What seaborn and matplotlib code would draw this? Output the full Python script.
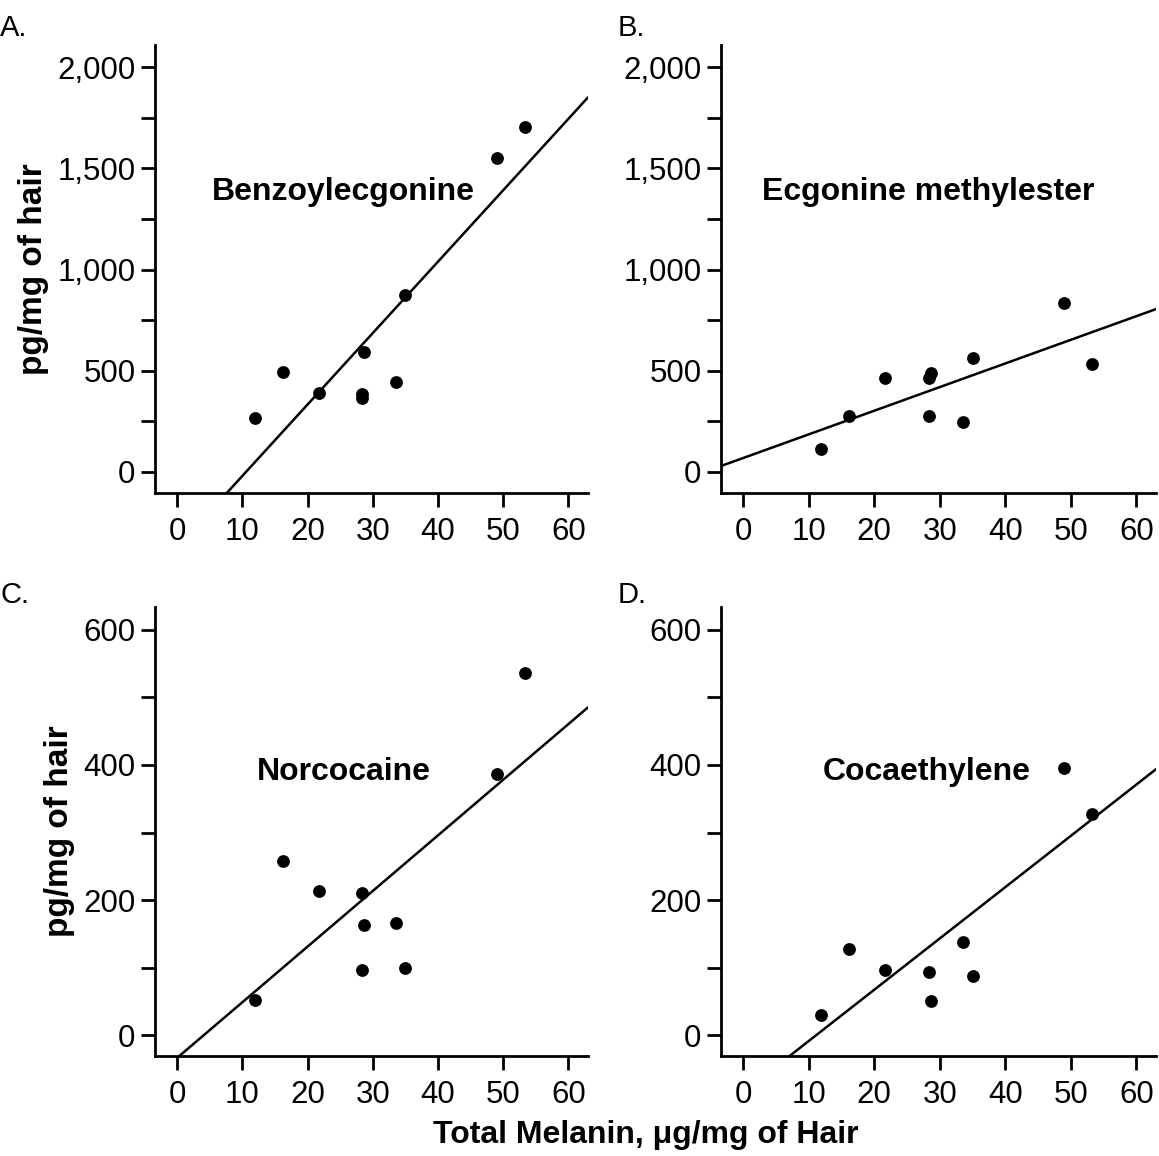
import numpy as np
import pandas as pd
import seaborn as sns
import matplotlib.pyplot as plt
from matplotlib.ticker import FuncFormatter, MultipleLocator

# total melanin (ug/mg of hair) for each of the 10 samples
melanin = [11.9, 16.2, 21.7, 28.3, 28.3, 28.7, 33.5, 35.0, 49.0, 53.3]

# drug concentrations, pg/mg of hair
benzoylecgonine = [265, 494, 388, 385, 367, 591, 445, 874, 1550, 1707]
ecgonine_me = [111, 277, 462, 462, 277, 489, 247, 563, 833, 535]
norcocaine = [52, 258, 214, 210, 97, 163, 166, 100, 387, 536]
cocaethylene = [30, 127, 96, 94, np.nan, 51, 138, 88, 395, 327]

panels = ["A.", "B.", "C.", "D."]
names = ["Benzoylecgonine", "Ecgonine methylester", "Norcocaine", "Cocaethylene"]

df = pd.DataFrame({
    "melanin": melanin,
    "Benzoylecgonine": benzoylecgonine,
    "Ecgonine methylester": ecgonine_me,
    "Norcocaine": norcocaine,
    "Cocaethylene": cocaethylene,
})

sns.set_style("ticks")
plt.rcParams["font.family"] = ["Liberation Sans", "DejaVu Sans"]
plt.rcParams["text.color"] = "black"
plt.rcParams["axes.labelcolor"] = "black"

fig = plt.figure(figsize=(11.59, 11.56), dpi=100)

# axes boxes in figure fractions (left, bottom, width, height)
boxes = [
    (155 / 1159, 1 - 493 / 1156, 433 / 1159, 448 / 1156),
    (721 / 1159, 1 - 493 / 1156, 435 / 1159, 448 / 1156),
    (155 / 1159, 1 - 1056 / 1156, 433 / 1159, 449 / 1156),
    (721 / 1159, 1 - 1056 / 1156, 435 / 1159, 449 / 1156),
]
# where the compound name sits (axes fraction, left edge / vertical centre)
name_pos = [(0.132, 0.672), (0.094, 0.672), (0.236, 0.632), (0.234, 0.632)]
letter_pos = [(0.0, 1 - 28 / 1156), (618 / 1159, 1 - 28 / 1156),
              (0.0, 1 - 595 / 1156), (618 / 1159, 1 - 595 / 1156)]

for i, name in enumerate(names):
    ax = fig.add_axes(boxes[i])
    big = i < 2
    ax.set_xlim(-3.4, 63)
    if big:
        ax.set_ylim(-105, 2110)
    else:
        ax.set_ylim(-31, 634)

    sns.regplot(data=df, x="melanin", y=name, ax=ax, ci=None, truncate=False,
                color="black",
                scatter_kws={"s": 85, "color": "black", "linewidths": 0, "alpha": 1},
                line_kws={"color": "black", "linewidth": 1.8})

    ax.set_xlim(-3.4, 63)
    if big:
        ax.set_ylim(-105, 2110)
        ax.yaxis.set_major_locator(MultipleLocator(500))
        ax.yaxis.set_minor_locator(MultipleLocator(250))
    else:
        ax.set_ylim(-31, 634)
        ax.yaxis.set_major_locator(MultipleLocator(200))
        ax.yaxis.set_minor_locator(MultipleLocator(100))
    ax.set_yticks([t for t in ax.get_yticks() if 0 <= t <= (2000 if big else 600)])
    ax.yaxis.set_major_formatter(FuncFormatter(lambda v, p: f"{int(v):,}"))
    ax.set_xticks(range(0, 61, 10))

    sns.despine(ax=ax)
    for s in ["left", "bottom"]:
        ax.spines[s].set_linewidth(2)
        ax.spines[s].set_color("black")
    ax.tick_params(which="both", direction="out", length=10, width=2,
                   color="black", labelsize=22.5, labelcolor="black", pad=4)
    ax.tick_params(axis="x", pad=7)

    ax.set_xlabel("")
    if i % 2 == 0:
        ax.set_ylabel("pg/mg of hair", fontsize=24, fontweight="bold", labelpad=6)
    else:
        ax.set_ylabel("")

    ax.text(name_pos[i][0], name_pos[i][1], name, transform=ax.transAxes,
            fontsize=23, fontweight="bold", ha="left", va="center")
    fig.text(letter_pos[i][0], letter_pos[i][1], panels[i], fontsize=21,
             ha="left", va="center")

fig.text(646 / 1159, 1 - 1135 / 1156, "Total Melanin, \u03bcg/mg of Hair",
         fontsize=23, fontweight="bold", ha="center", va="center")

fig.savefig("out.png", dpi=100, facecolor="white")
